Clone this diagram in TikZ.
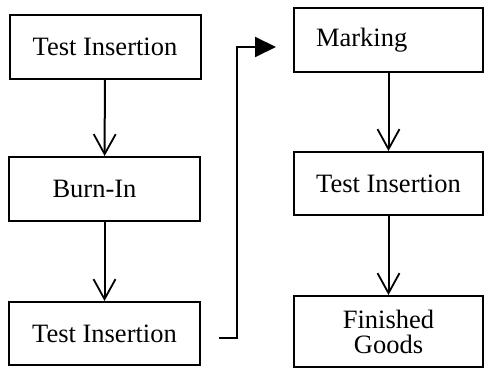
\documentclass[tikz,border=0pt]{standalone}
\usepackage{fontspec}
\setmainfont{Liberation Serif}
\usetikzlibrary{arrows.meta}

\begin{document}
\begin{tikzpicture}[
  x=1pt,y=-1pt,
  stage/.style={draw,line width=2pt,minimum width=191pt,minimum height=64pt,
    inner sep=2pt,font=\fontsize{26.5}{25}\selectfont,align=center},
  flow/.style={-{Straight Barb[length=20pt,width=22pt,line width=1.8pt]},line width=2pt},
  jump/.style={-{Triangle[length=21pt,width=20pt]},line width=2pt}
]
  \useasboundingbox (0,0) rectangle (484,377);

  \node[stage] (test1) at (105,47) {Test Insertion};
  \node[stage] (burnin) at (104.5,189) {Burn-In\hspace{20pt}};
  \node[stage,minimum height=63pt] (test2) at (104.5,333.5) {Test Insertion};

  \node[stage,minimum width=189pt,text width=145pt,inner xsep=21pt,align=left] (marking) at (388.5,40) {Marking};
  \node[stage,minimum width=189pt,minimum height=63pt] (test3) at (388.5,183.5) {Test Insertion};
  \node[stage,minimum width=189pt,minimum height=71pt] (goods) at (388.5,331.5) {Finished\\Goods};

  \coordinate (bend) at (237,47);

  \draw[flow] (test1) -- (burnin);
  \draw[flow] (burnin) -- (test2);
  \draw[flow] (marking) -- (test3);
  \draw[flow] (test3) -- (goods);
  \draw[jump] ([xshift=18pt,yshift=-4.5pt]test2.east) -| (bend)
    -- ([xshift=-17pt,yshift=-7pt]marking.west);
\end{tikzpicture}
\end{document}
